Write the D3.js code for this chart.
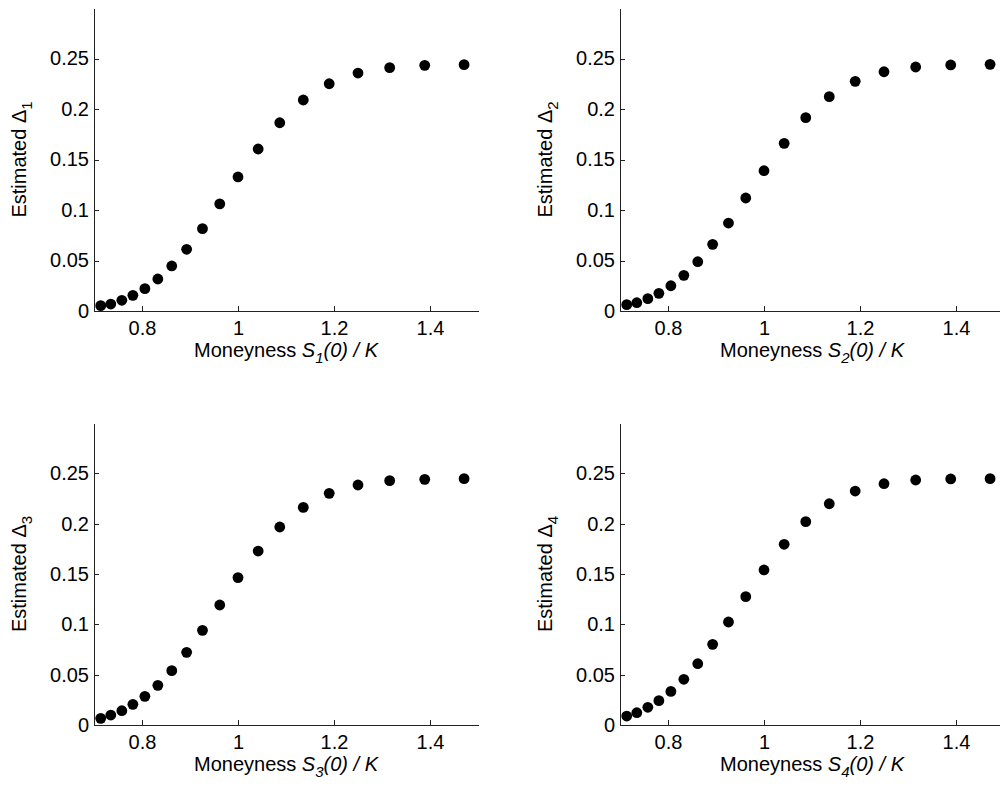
<!DOCTYPE html>
<html>
<head>
<meta charset="utf-8">
<script src="https://cdnjs.cloudflare.com/ajax/libs/d3/7.8.5/d3.min.js"></script>
<style>
  body { margin: 0; background: #fff; }
  text { font-family: "Liberation Sans", Arial, Helvetica, sans-serif; fill: #000; }
</style>
</head>
<body>
<div id="chart"></div>
<script>
// moneyness S(0)/K, same for all four panels
var moneyness = [0.714, 0.735, 0.758, 0.781, 0.806, 0.833, 0.862, 0.893, 0.926, 0.962,
  1.0, 1.042, 1.087, 1.136, 1.190, 1.250, 1.316, 1.389, 1.471];

// estimated deltas
var delta1 = [0.0053, 0.0069, 0.0106, 0.0155, 0.0221, 0.0317, 0.0446, 0.0611, 0.0815, 0.106,
  0.1327, 0.1604, 0.1864, 0.2089, 0.225, 0.2356, 0.2409, 0.2432, 0.2439];
var delta2 = [0.0063, 0.0082, 0.0122, 0.0175, 0.025, 0.0353, 0.0488, 0.066, 0.0871, 0.1119,
  0.1389, 0.166, 0.1914, 0.2122, 0.2274, 0.2369, 0.2416, 0.2436, 0.2442];
var delta3 = [0.0066, 0.0099, 0.0142, 0.0205, 0.0285, 0.0394, 0.054, 0.0722, 0.094, 0.1192,
  0.1464, 0.1728, 0.1967, 0.2162, 0.2301, 0.2384, 0.2427, 0.244, 0.2447];
var delta4 = [0.0089, 0.0122, 0.0176, 0.0242, 0.0334, 0.0454, 0.0609, 0.0801, 0.1023, 0.1275,
  0.154, 0.1795, 0.202, 0.2198, 0.2324, 0.2397, 0.2434, 0.2444, 0.2447];

var xTicks = [0.8, 1, 1.2, 1.4];
var xTickLabels = ["0.8", "1", "1.2", "1.4"];
var yTicks = [0, 0.05, 0.1, 0.15, 0.2, 0.25];
var yTickLabels = ["0", "0.05", "0.1", "0.15", "0.2", "0.25"];
var subscripts = ["1", "2", "3", "4"];

var width = 1000, height = 787;
var plotW = 384;
// left / top / bottom of each panel
var panels = [
  { left: 94, top: 8, bottom: 311, values: delta1 },
  { left: 620, top: 8, bottom: 311, values: delta2 },
  { left: 94, top: 423, bottom: 725, values: delta3 },
  { left: 620, top: 423, bottom: 725, values: delta4 }
];

var svg = d3.select("#chart")
  .append("svg")
  .attr("width", width)
  .attr("height", height);

panels.forEach(function (p, i) {
  var g = svg.append("g")
    .attr("transform", "translate(" + p.left + "," + p.top + ")");
  var h = p.bottom - p.top;

  var x = d3.scaleLinear().domain([0.7, 1.5]).range([0, plotW]);
  var y = d3.scaleLinear().domain([0, 0.3]).range([h, 0]);

  // x axis, ticks pointing inside
  var xa = g.append("g")
    .attr("transform", "translate(0," + h + ")")
    .call(d3.axisBottom(x)
      .tickValues(xTicks)
      .tickFormat(function (d, j) { return xTickLabels[j]; })
      .tickSizeInner(-5)
      .tickSizeOuter(0)
      .tickPadding(10));

  // y axis
  var ya = g.append("g")
    .call(d3.axisLeft(y)
      .tickValues(yTicks)
      .tickFormat(function (d, j) { return yTickLabels[j]; })
      .tickSizeInner(-5)
      .tickSizeOuter(0)
      .tickPadding(5));

  [xa, ya].forEach(function (a) {
    a.selectAll("text").attr("font-size", 20).attr("font-family", null).style("fill", "#000");
    a.selectAll("path, line").attr("stroke", "#222").attr("shape-rendering", "crispEdges");
  });

  // dots
  g.selectAll("circle")
    .data(p.values)
    .enter()
    .append("circle")
    .attr("cx", function (d, j) { return x(moneyness[j]); })
    .attr("cy", function (d) { return y(d); })
    .attr("r", 5.4)
    .attr("fill", "#000");

  // y label
  var yl = g.append("text")
    .attr("transform", "translate(-68," + (h / 2) + ") rotate(-90)")
    .attr("text-anchor", "middle")
    .attr("font-size", 20);
  yl.append("tspan").text("Estimated \u0394");
  yl.append("tspan").attr("font-size", 15).attr("dy", 6).text(subscripts[i]);

  // x label
  var xl = g.append("text")
    .attr("x", plotW / 2)
    .attr("y", h + 46)
    .attr("text-anchor", "middle")
    .attr("font-size", 20);
  xl.append("tspan").text("Moneyness ");
  xl.append("tspan").attr("font-style", "italic").text("S");
  xl.append("tspan").attr("font-style", "italic").attr("font-size", 15).attr("dy", 6).text(subscripts[i]);
  xl.append("tspan").attr("font-style", "italic").attr("dy", -6).text("(0) / K");
});
</script>
</body>
</html>
